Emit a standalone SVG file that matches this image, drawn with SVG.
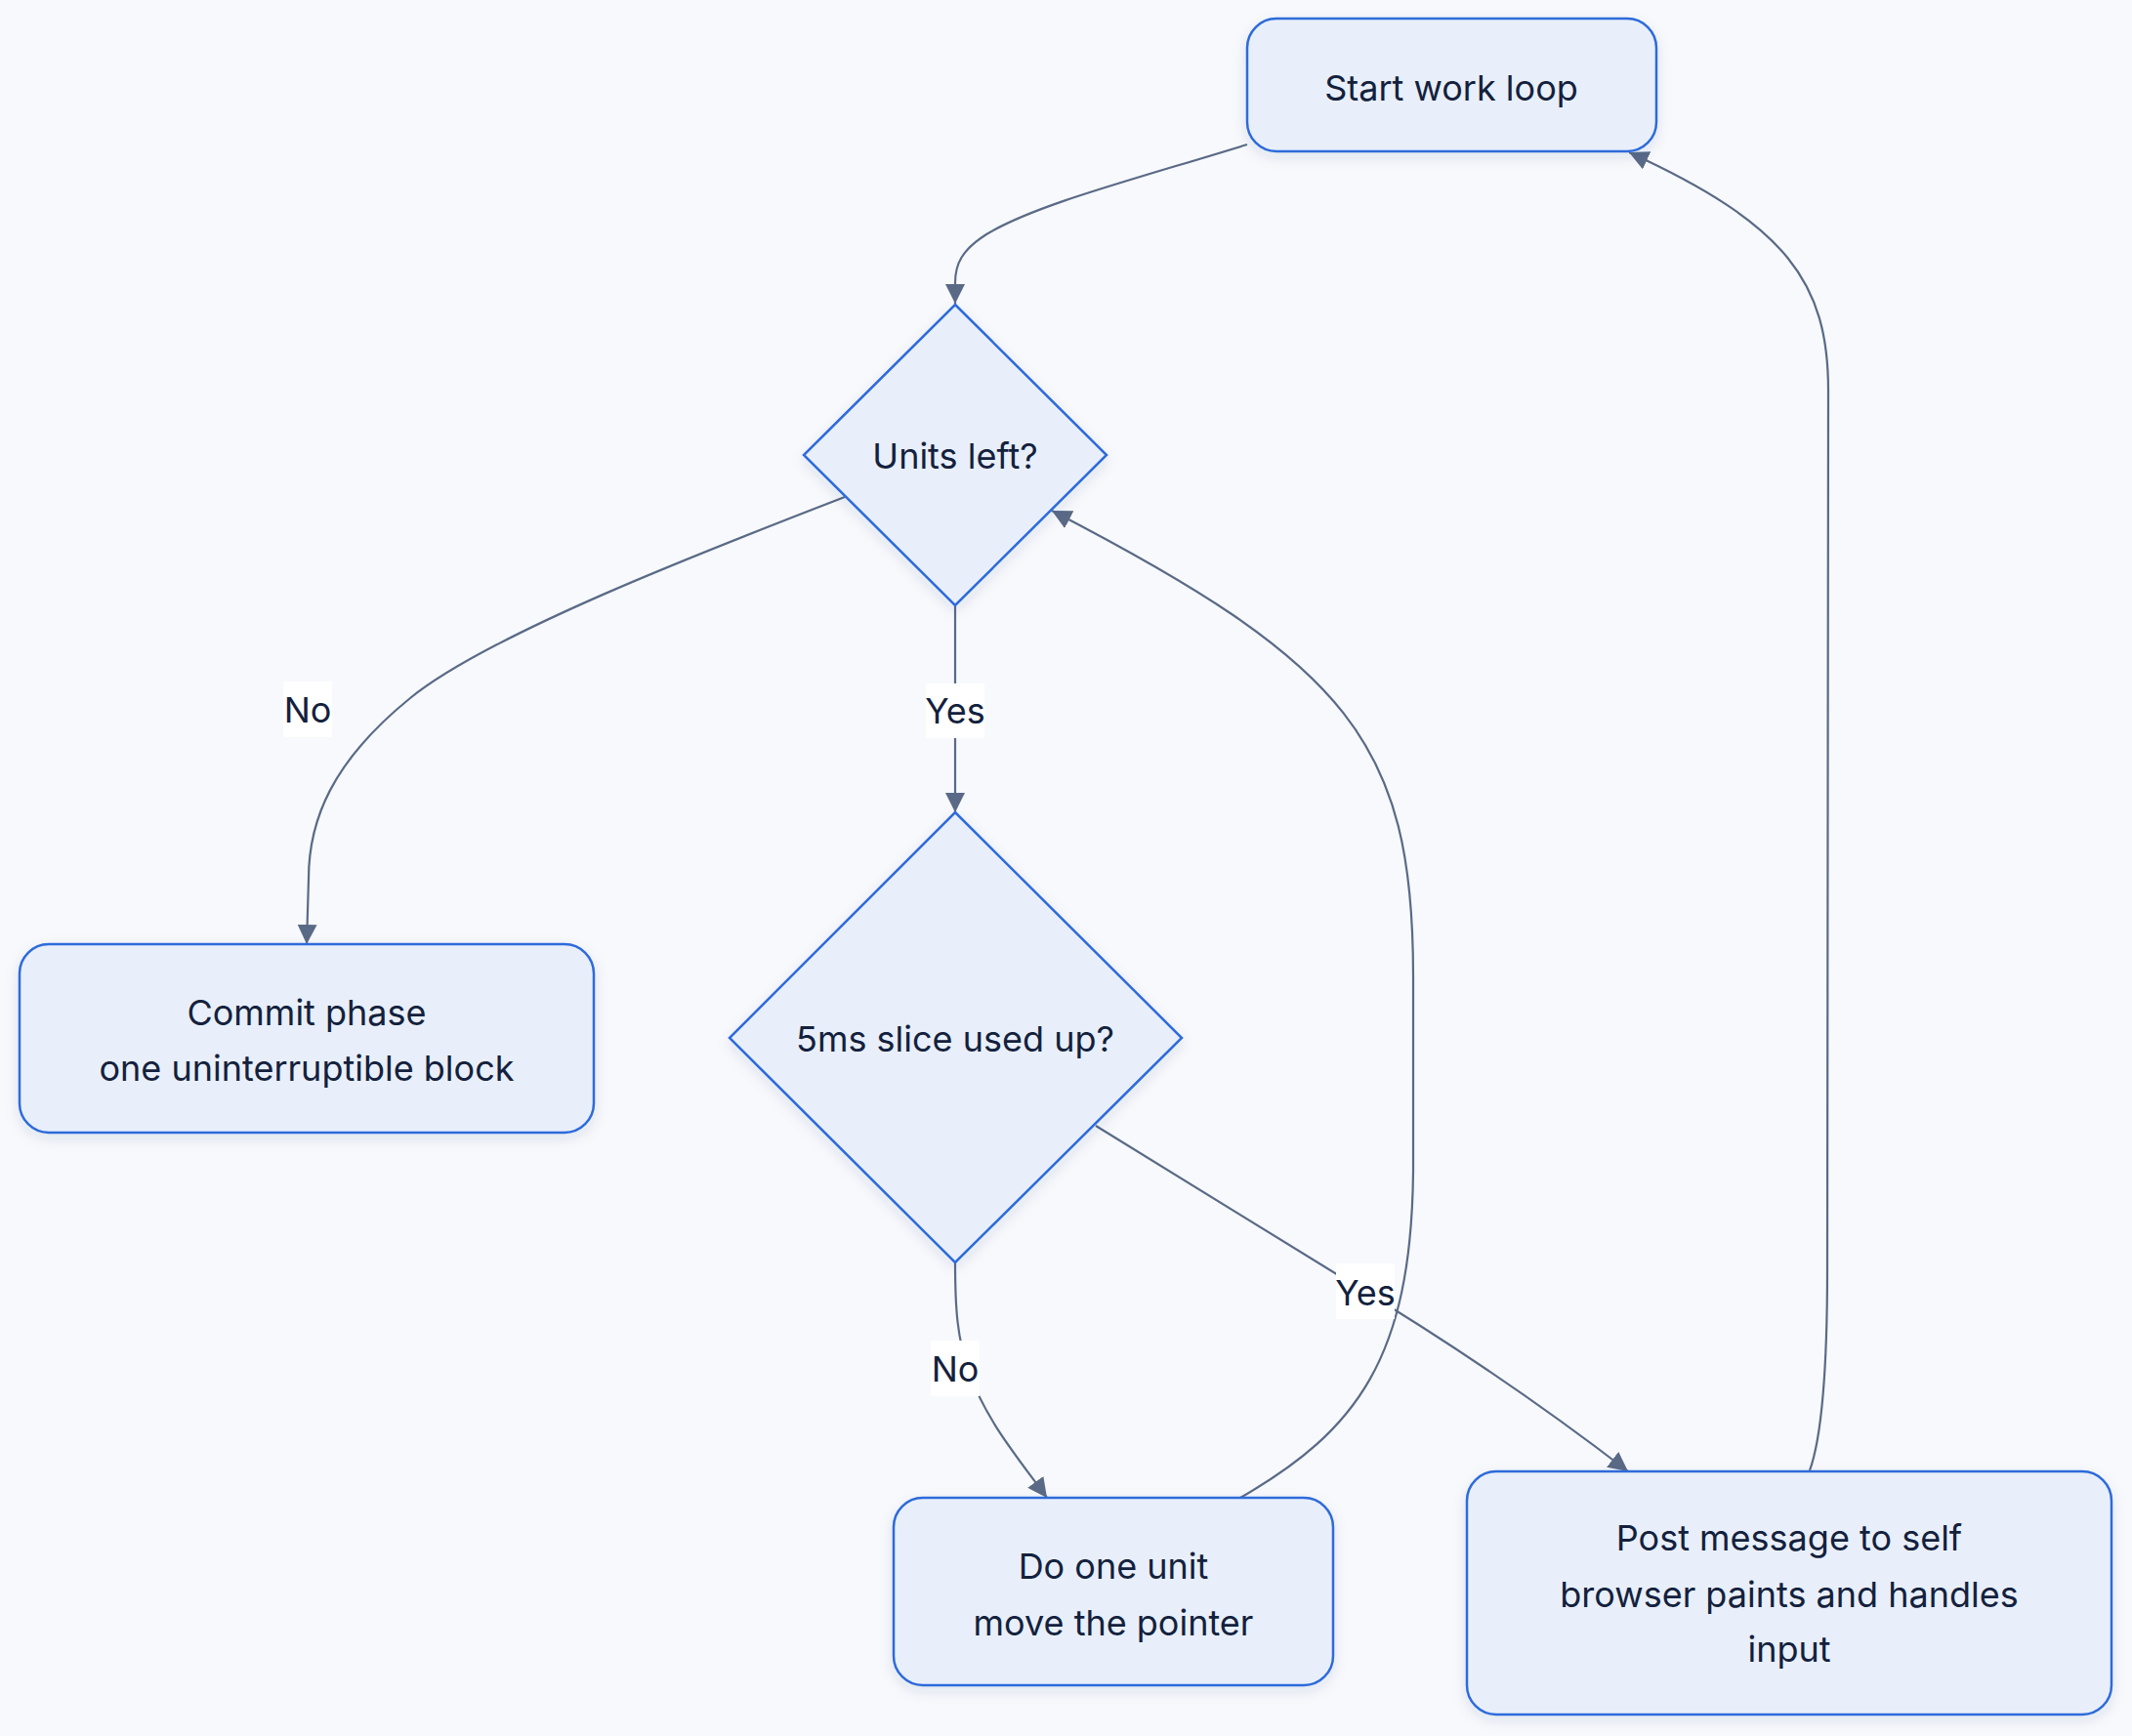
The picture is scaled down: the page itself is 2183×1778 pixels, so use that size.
<svg xmlns="http://www.w3.org/2000/svg" width="2183" height="1778" viewBox="0 0 2183 1778">
<style>
.node rect,.node polygon{fill:#e8effa;stroke:#2d6bdb;stroke-width:2.5;filter:url(#sh)}
.lbl{font-family:Inter,"Noto Sans","Liberation Sans",sans-serif;font-size:36px;fill:#13213d;text-anchor:middle}
.edge{fill:none;stroke:#5a6a86;stroke-width:2.2}
.elbg{fill:#ffffff}
</style>
<defs>
<filter id="sh" x="-20%" y="-20%" width="140%" height="150%">
<feDropShadow dx="0" dy="5" stdDeviation="7" flood-color="#1e3a6e" flood-opacity="0.10"/>
</filter>
<marker id="arr" viewBox="0 0 20 20" refX="20" refY="10" markerWidth="20" markerHeight="20" markerUnits="userSpaceOnUse" orient="auto">
<path d="M0,0 L20,10 L0,20 z" fill="#5a6a86"/>
</marker>
</defs>
<rect width="2183" height="1778" fill="#f7f9fc"/>
<g id="connectors">
<path class="edge" marker-end="url(#arr)" d="M1277,148 C1150,187 1060,210 1010,240 C985,256 978,270 978,290 L978,311"/>
<path class="edge" marker-end="url(#arr)" d="M865,509 C720,565 500,650 420,715 C340,780 316,840 316,900 L314,967"/>
<path class="edge" marker-end="url(#arr)" d="M978,620 L978,832"/>
<path class="edge" marker-end="url(#arr)" d="M978,1293 C978,1340 980,1370 992,1405 C1010,1455 1040,1490 1072,1534"/>
<path class="edge" marker-end="url(#arr)" d="M1122,1153 L1380,1312 C1480,1372 1580,1440 1667,1507"/>
<path class="edge" marker-end="url(#arr)" d="M1270,1534 C1390,1465 1445,1390 1447,1200 L1447,1000 C1447,760 1380,680 1077,523"/>
<path class="edge" marker-end="url(#arr)" d="M1853,1506 C1866,1470 1871,1400 1871,1300 L1872,400 C1872,290 1830,230 1668,156"/>
</g>
<g id="edge-labels">
<g id="label-no-1"><rect class="elbg" x="290" y="698" width="50" height="57"/><text class="lbl" x="315" y="740">No</text></g>
<g id="label-yes-1"><rect class="elbg" x="948" y="700" width="60" height="56"/><text class="lbl" x="978" y="741">Yes</text></g>
<g id="label-no-2"><rect class="elbg" x="953" y="1373" width="50" height="57"/><text class="lbl" x="978" y="1415">No</text></g>
<g id="label-yes-2"><rect class="elbg" x="1368" y="1294" width="60" height="57"/><text class="lbl" x="1398" y="1337">Yes</text></g>
</g>
<g id="start" class="node"><rect x="1277" y="19" width="419" height="136" rx="30"/><text class="lbl" x="1486" y="103">Start work loop</text></g>
<g id="units" class="node"><polygon points="978,312 1133,466 978,620 823,466"/><text class="lbl" x="978" y="480">Units left?</text></g>
<g id="commit" class="node"><rect x="20" y="967" width="588" height="193" rx="30"/><text class="lbl" x="314" y="1050">Commit phase</text><text class="lbl" x="314" y="1107">one uninterruptible block</text></g>
<g id="slice" class="node"><polygon points="978,832 1210,1063 978,1293 747,1063"/><text class="lbl" x="978" y="1077">5ms slice used up?</text></g>
<g id="dounit" class="node"><rect x="915" y="1534" width="450" height="192" rx="30"/><text class="lbl" x="1140" y="1617">Do one unit</text><text class="lbl" x="1140" y="1675">move the pointer</text></g>
<g id="post" class="node"><rect x="1502" y="1507" width="660" height="249" rx="30"/><text class="lbl" x="1832" y="1588">Post message to self</text><text class="lbl" x="1832" y="1646">browser paints and handles</text><text class="lbl" x="1832" y="1702">input</text></g>
</svg>
